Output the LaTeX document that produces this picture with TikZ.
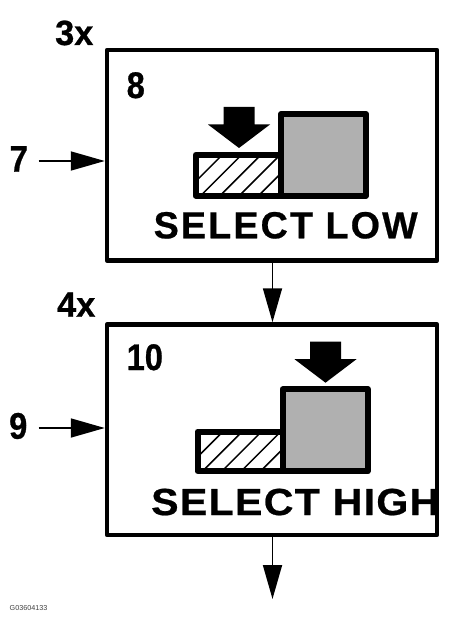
\documentclass[tikz,border=0pt]{standalone}
\usepackage{fontspec}
\setmainfont{Liberation Sans}
\newfontfamily\capfont[LetterSpace=5.6,FakeBold=0.6]{Liberation Sans Bold}
\newfontfamily\capfontb[LetterSpace=3.5,FakeBold=0.6,FakeStretch=1.09]{Liberation Sans Bold}
\newfontfamily\digitfont[FakeBold=0.8,FakeStretch=0.88]{Liberation Sans Bold}
\newfontfamily\qtyfont[FakeBold=0.8,FakeStretch=0.98]{Liberation Sans Bold}
\usetikzlibrary{arrows.meta}
\tikzset{
  x=1pt,y=-1pt,
  framebox/.style={draw=black,line width=4.5pt,minimum width=330pt,minimum height=210.5pt,inner sep=0pt,line join=round,anchor=north west},
  conn/.style={line width=1.8pt,-{Triangle[length=34pt,width=19pt]}},
  numlabel/.style={anchor=base west,inner sep=0pt,font=\digitfont\fontsize{37}{38}\selectfont},
  qtylabel/.style={anchor=base west,inner sep=0pt,font=\qtyfont\fontsize{35}{36}\selectfont},
  caplabel/.style={anchor=base west,inner sep=0pt,font=\capfont\fontsize{37.7}{40}\selectfont},
  caplabelb/.style={anchor=base west,inner sep=0pt,font=\capfontb\fontsize{37.7}{40}\selectfont},
  thickbox/.style={draw=black,line width=6pt,line join=round},
  hatchline/.style={line width=1.5pt},
  bigarrow/.style={fill=black,draw=none},
  idlabel/.style={anchor=base west,inner sep=0pt,font=\fontsize{7.2}{8}\selectfont,text=black!75}
}
\newcommand{\stepgraphic}[7]{%
  \begin{scope}
    \clip (#1,#4) rectangle (#2,#5);
    \foreach \k in {0,...,6}
      \draw[hatchline] ({#1+7+\k*19.3-19.3},{#5-2}) -- ++(40,-40);
  \end{scope}
  \fill[fill=#7] (#2,#3) rectangle (#6,#5);
  \draw[thickbox] (#1,#4) -- (#2,#4) -- (#2,#5) -- (#1,#5) -- cycle;
  \draw[thickbox] (#2,#3) rectangle (#6,#5);
}
\newcommand{\pressarrow}[2]{%
  \fill[bigarrow] ({#1-15.5},#2) -- ({#1+15.5},#2) -- ({#1+15.5},{#2+17.5}) -- ({#1+31},{#2+17.5})
    -- (#1,{#2+41}) -- ({#1-31},{#2+17.5}) -- ({#1-15.5},{#2+17.5}) -- cycle;
}
\definecolor{keygray}{HTML}{B0B0B0}
\begin{document}
\begin{tikzpicture}
\useasboundingbox (0,0) rectangle (450,631);
\node[framebox] (box1) at (104.75,47.75) {};
\node[framebox] (box2) at (104.75,322.25) {};
\coordinate (in1) at (38.7,161);
\coordinate (in2) at (38.7,428);
\coordinate (out2) at (272.5,599);
\draw[conn] (in1) -- (in1 -| box1.west);
\draw[conn] (in2) -- (in2 -| box2.west);
\draw[conn] (box1.south -| out2) -- (box2.north -| out2);
\draw[conn] (box2.south -| out2) -- (out2);
\stepgraphic{195.7}{281}{114}{154.7}{195.7}{366}{keygray}
\pressarrow{239}{107}
\stepgraphic{197.5}{282.5}{389.3}{431.7}{471.3}{367.7}{keygray}
\pressarrow{325.5}{341.7}
\node[qtylabel] (q1) at (55,45) {3x};
\node[qtylabel] (q2) at (57,316.7) {4x};
\node[numlabel] (n8) at (126.5,98) {8};
\node[numlabel] (n7) at (9.5,171.7) {7};
\node[numlabel] (n10) at (126.5,370) {10};
\node[numlabel] (n9) at (9,438.7) {9};
\node[caplabel] (low) at (153.5,238.3) {SELECT LOW};
\node[caplabelb] (high) at (151,515) {SELECT HIGH};
\node[idlabel] (gid) at (9.5,610) {G03604133};
\end{tikzpicture}
\end{document}
